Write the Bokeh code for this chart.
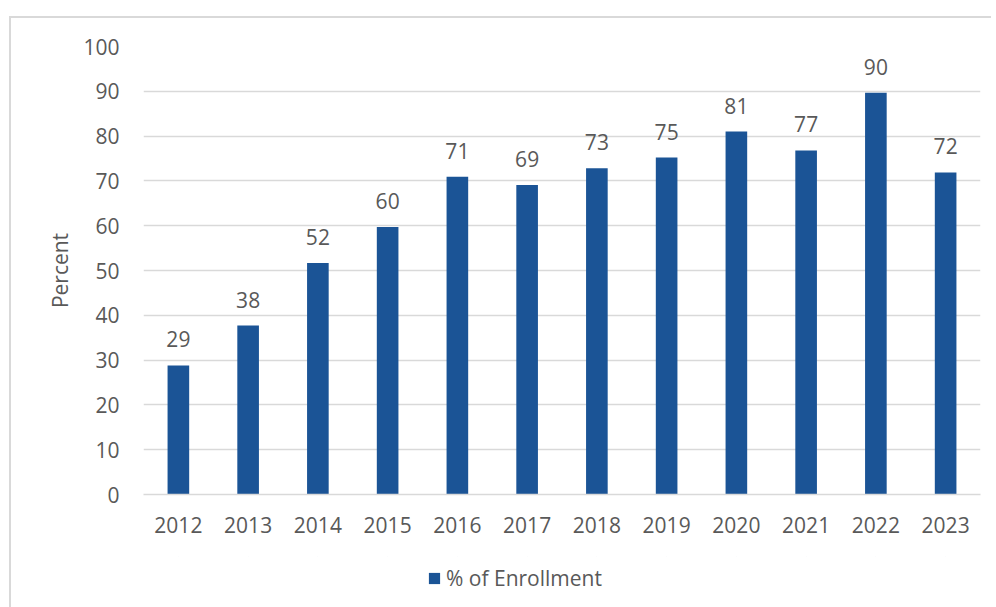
from bokeh.plotting import figure
from bokeh.layouts import column
from bokeh.models import ColumnDataSource, FactorRange, Range1d, Legend, LegendItem, InlineStyleSheet
from bokeh.core.properties import value
from bokeh.embed import file_html
from bokeh.resources import INLINE

years = ["2012", "2013", "2014", "2015", "2016", "2017", "2018", "2019", "2020", "2021", "2022", "2023"]
pct = [28.8, 37.7, 51.7, 59.7, 70.9, 69.1, 72.8, 75.2, 81.0, 76.8, 89.7, 71.9]
labels = ["29", "38", "52", "60", "71", "69", "73", "75", "81", "77", "90", "72"]
y_ticks = [0, 10, 20, 30, 40, 50, 60, 70, 80, 90, 100]
series_name = "% of Enrollment"

FONT = "Open Sans"
TXT = "#595959"
GRID = "#d9d9d9"
BAR = "#1b5496"
FS = "21px"

src = ColumnDataSource(dict(year=years, pct=pct, label=labels))
xr = FactorRange(*years, range_padding=0)

p = figure(width=996, height=556, x_range=xr,
           y_range=Range1d(0, 100), output_backend="svg", toolbar_location=None,
           min_border_left=143, min_border_right=16, min_border_top=46, min_border_bottom=62)
p.outline_line_color = None
p.background_fill_color = None
p.border_fill_color = None

r = p.vbar(x="year", top="pct", width=0.31, source=src, fill_color=BAR, line_color=None)
p.text(x="year", y="pct", text="label", source=src, text_align="center", text_baseline="bottom",
       y_offset=-18, text_font=value(FONT), text_font_size=FS, text_color=TXT)

p.xgrid.grid_line_color = None
p.ygrid.grid_line_color = GRID
p.ygrid.grid_line_width = 1.5
p.yaxis.ticker = y_ticks
p.yaxis.axis_line_color = None
p.yaxis.major_tick_line_color = None
p.yaxis.minor_tick_line_color = None
p.yaxis.major_label_standoff = 18
p.yaxis.axis_label = "Percent"
p.yaxis.axis_label_standoff = 6
p.yaxis.axis_label_text_font_style = "normal"
p.yaxis.axis_label_text_font = FONT
p.yaxis.axis_label_text_font_size = FS
p.yaxis.axis_label_text_color = TXT

p.xaxis.axis_line_color = GRID
p.xaxis.axis_line_width = 1.5
p.xaxis.major_tick_line_color = None
p.xaxis.minor_tick_line_color = None
p.xaxis.major_label_standoff = 16

for ax in (p.xaxis, p.yaxis):
    ax.major_label_text_font = FONT
    ax.major_label_text_font_size = FS
    ax.major_label_text_color = TXT

# legend strip (its bars lie far outside its visible range; only the legend shows)
p2 = figure(width=996, height=51, x_range=xr, y_range=Range1d(-1001, -1000),
            x_axis_type=None, y_axis_type=None, output_backend="svg", toolbar_location=None,
            min_border=0)
p2.outline_line_color = None
p2.background_fill_color = None
p2.border_fill_color = None
p2.grid.grid_line_color = None
r2 = p2.vbar(x="year", bottom="pct", top="pct", width=0.001, source=src,
             fill_color=BAR, line_color=None)

legend = Legend(items=[LegendItem(label=series_name, renderers=[r2])],
                location=(284, 15), orientation="horizontal",
                glyph_width=14, glyph_height=14, label_standoff=5, padding=0, margin=0,
                label_text_font=FONT, label_text_font_size=FS, label_text_color=TXT,
                background_fill_alpha=0, border_line_color=None)
p2.add_layout(legend, "center")

css = InlineStyleSheet(css="""
:host::after { content: ''; position: absolute; left: 9px; top: 16px; width: 980px; height: 590px;
  border-top: 2px solid #d9d9d9; border-left: 2px solid #d9d9d9; pointer-events: none; }
""")
layout = column(p, p2, spacing=0, stylesheets=[css])

open("out.html", "w").write(file_html(layout, INLINE))
